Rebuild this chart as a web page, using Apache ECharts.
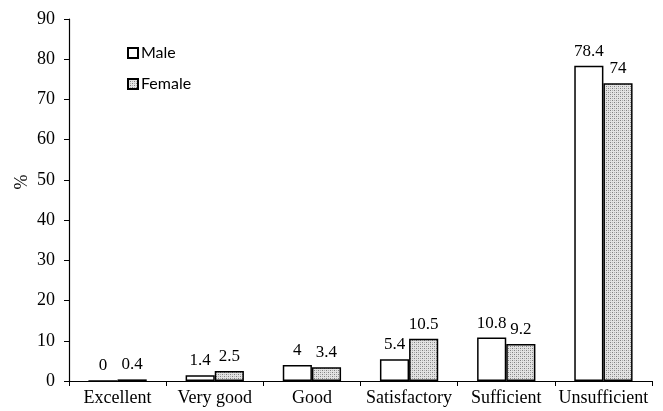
<!DOCTYPE html>
<html><head><meta charset="utf-8">
<script src="https://cdn.jsdelivr.net/npm/echarts@6/dist/echarts.min.js"></script>
<style>html,body{margin:0;padding:0;background:#fff}#c{width:663px;height:411px}</style>
</head><body><div id="c"></div>
<script>
var categories = ['Excellent','Very good','Good','Satisfactory','Sufficient','Unsufficient'];
var maleValues = [0, 1.4, 4, 5.4, 10.8, 78.4];
var femaleValues = [0.4, 2.5, 3.4, 10.5, 9.2, 74];
var yTicks = [0, 90, 10];

function makePattern(){
  var c = document.createElement('canvas');
  c.width = 4; c.height = 4;
  var g = c.getContext('2d');
  g.fillStyle = '#e3e3e3'; g.fillRect(0,0,4,4);
  g.fillStyle = '#808080';
  g.fillRect(0,0,1,1); g.fillRect(2,2,1,1);
  g.fillStyle = '#b0b0b0';
  g.fillRect(2,0,1,1); g.fillRect(0,2,1,1);
  return c;
}
var pattern = makePattern();
var serif = '"Liberation Serif", "Times New Roman", serif';
var chart = echarts.init(document.getElementById('c'));
chart.setOption({
  animation: false,
  backgroundColor: '#fff',
  grid: {left: 69, right: 11, top: 19, bottom: 30, containLabel: false},
  legend: {
    orient: 'vertical', left: 122, top: 40, itemWidth: 10, itemHeight: 10, itemGap: 15,
    icon: 'rect',
    textStyle: {fontFamily: 'Lato, "Open Sans", sans-serif', fontSize: 16, color: '#000', padding: [0,0,0,-2]},
    data: ['Male','Female']
  },
  graphic: [{
    type: 'text', x: 22, y: 182, rotation: Math.PI / 2,
    style: {text: '%', font: '18px "Liberation Serif", serif', fill: '#000', align: 'center', verticalAlign: 'middle'}
  }],
  xAxis: {
    type: 'category', data: categories,
    axisLine: {lineStyle: {color: '#000', width: 1.2}},
    axisTick: {show: true, length: 5, alignWithLabel: false, lineStyle: {color: '#000'}},
    axisLabel: {fontFamily: serif, fontSize: 18, color: '#000', margin: 8, interval: 0}
  },
  yAxis: {
    type: 'value', min: yTicks[0], max: yTicks[1], interval: yTicks[2],
    splitLine: {show: false},
    axisLine: {show: true, lineStyle: {color: '#000', width: 1.2}},
    axisTick: {show: true, length: 5, lineStyle: {color: '#000'}},
    axisLabel: {fontFamily: serif, fontSize: 18, color: '#000', margin: 14}
  },
  series: [
    {name: 'Male', type: 'bar', data: maleValues, barGap: '0%', barCategoryGap: '40%',
     itemStyle: {color: '#fff', borderColor: '#000', borderWidth: 1.5},
     label: {show: true, position: 'top', distance: 6, fontFamily: serif, fontSize: 17, color: '#000'}},
    {name: 'Female', type: 'bar', data: femaleValues, barGap: '0%', barCategoryGap: '40%',
     itemStyle: {color: {image: pattern, repeat: 'repeat'}, borderColor: '#000', borderWidth: 1.5},
     label: {show: true, position: 'top', distance: 6, fontFamily: serif, fontSize: 17, color: '#000'}}
  ]
});
</script></body></html>
